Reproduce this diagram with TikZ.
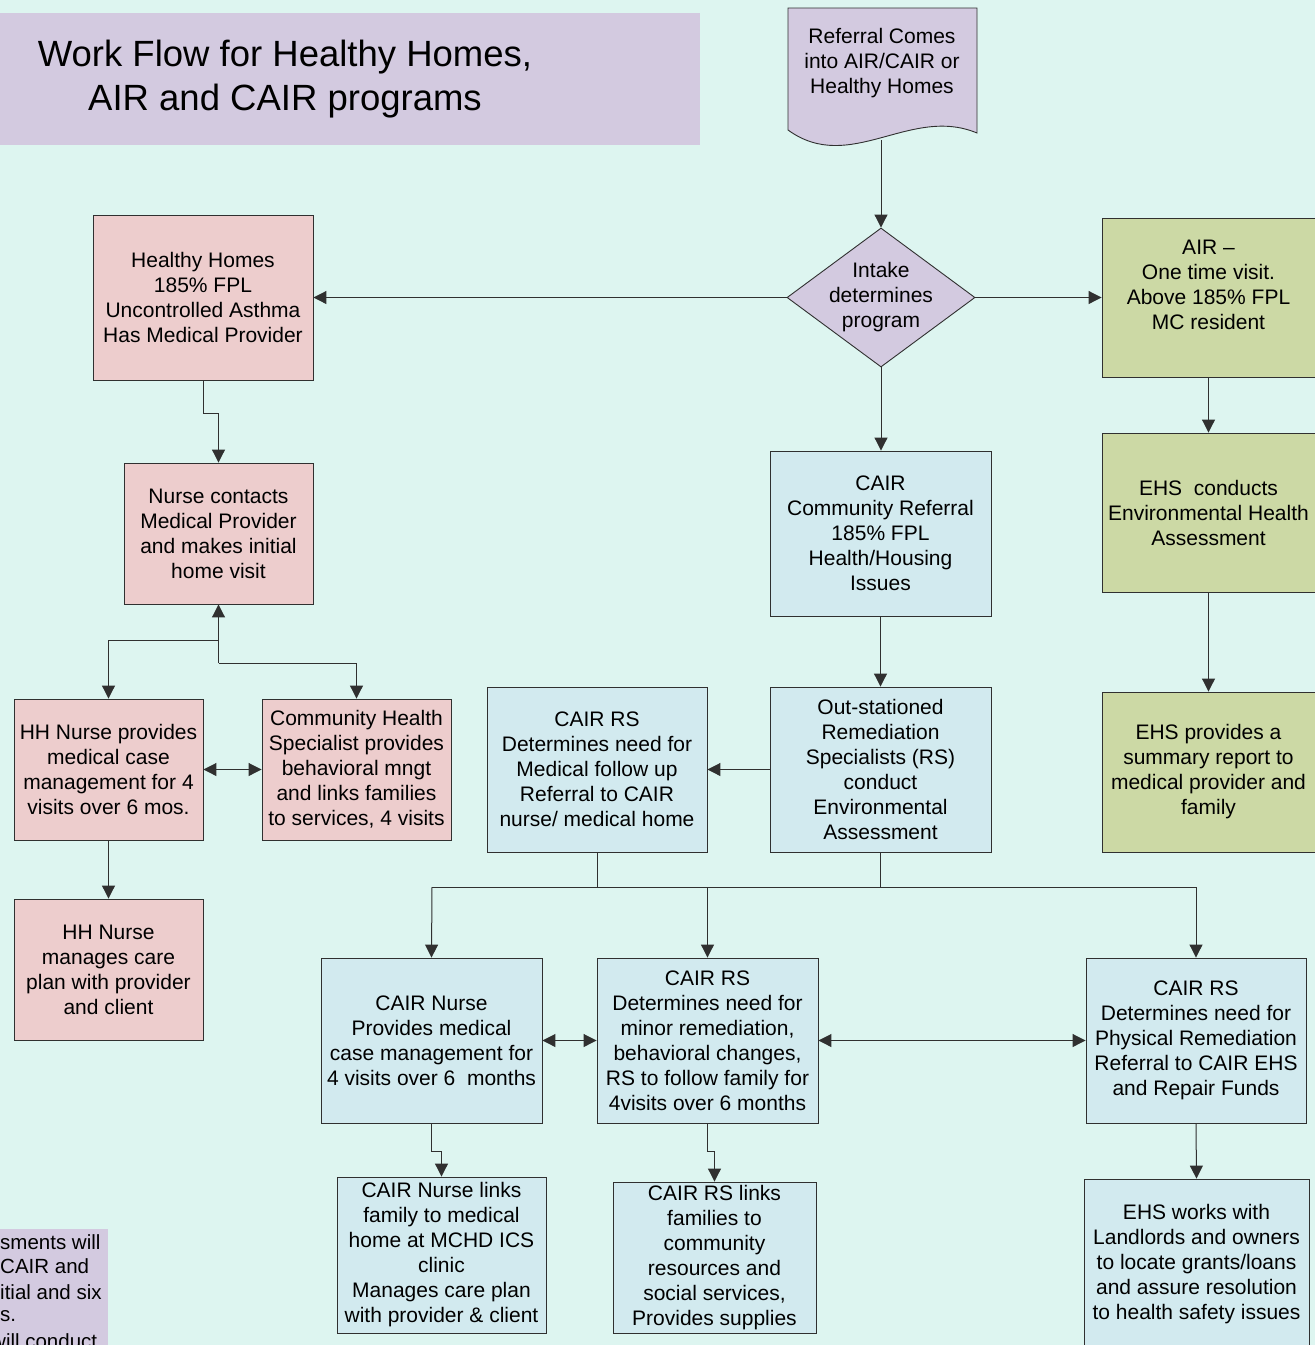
\documentclass[tikz,border=0pt]{standalone}
\usepackage{fontspec}
\setmainfont{Liberation Sans}
\usetikzlibrary{arrows.meta,shapes.geometric}
\definecolor{bgc}{HTML}{DDF5F0}
\definecolor{lilac}{HTML}{D3CAE0}
\definecolor{pinkc}{HTML}{EDCDCD}
\definecolor{bluec}{HTML}{D2EAEF}
\definecolor{greenc}{HTML}{CCD9A5}
\definecolor{linec}{HTML}{303030}
\begin{document}
\begin{tikzpicture}[x=1pt,y=-1pt,
  txt/.style={align=center, inner sep=0pt, font=\fontsize{21}{25}\selectfont},
  box/.style={txt, draw=linec, line width=0.9pt},
  pinkbox/.style={box, fill=pinkc},
  bluebox/.style={box, fill=bluec},
  greenbox/.style={box, fill=greenc},
  tip/.tip={Triangle[length=13pt,width=13pt]},
  wire/.style={draw=linec, line width=1pt},
  conn/.style={wire, -tip},
  dconn/.style={wire, tip-tip}]
\useasboundingbox (0,0) rectangle (1315,1345);
\clip (0,0) rectangle (1315,1345);
\fill[bgc] (0,0) rectangle (1315,1345);

% title
\fill[lilac] (0,13) rectangle (700,145);
\node[align=center, inner sep=0pt, font=\fontsize{36.5}{44}\selectfont] (title) at (285,79) {Work Flow for Healthy Homes,\\AIR and CAIR programs};

% referral document
\filldraw[fill=lilac, draw=linec, line width=0.9pt] (788,8) -- (977,8) -- (977,133)
  .. controls (910,105) and (850,175) .. (788,130) -- cycle;
\node[txt] (ref) at (882,63) {Referral Comes\\into AIR/CAIR or\\Healthy Homes};
\coordinate (refB) at (881,140);

% diamond
\node[diamond, draw=linec, line width=0.9pt, fill=lilac, minimum width=188pt, minimum height=139pt, inner sep=0pt] (dia) at (881,297.5) {};
\node[txt] (diat) at (dia.center) {Intake\\determines\\program};

% left column
\node[pinkbox, minimum width=220pt, minimum height=165pt] (hh) at (203,297.5) {Healthy Homes\\185\% FPL\\Uncontrolled Asthma\\Has Medical Provider};
\node[pinkbox, minimum width=189pt, minimum height=141pt] (nurse) at (218.5,533.5) {Nurse contacts\\Medical Provider\\and makes initial\\home visit};
\node[pinkbox, minimum width=189pt, minimum height=141pt] (hhn) at (108.5,769.5) {HH Nurse provides\\medical case\\management for 4\\visits over 6 mos.};
\node[pinkbox, minimum width=189pt, minimum height=141pt] (chs) at (356.5,769.5) {Community Health\\Specialist provides\\behavioral mngt\\and links families\\to services, 4 visits};
\node[pinkbox, minimum width=189pt, minimum height=141pt] (hhm) at (108.5,969.5) {HH Nurse\\manages care\\plan with provider\\and client};

% right column
\node[greenbox, minimum width=213pt, minimum height=159pt] (air) at (1208.5,297.5) {AIR --\\One time visit.\\Above 185\% FPL\\MC resident\\\mbox{}};
\node[greenbox, minimum width=213pt, minimum height=159pt] (ehs1) at (1208.5,512.5) {EHS\ \ conducts\\Environmental Health\\Assessment};
\node[greenbox, minimum width=213pt, minimum height=160pt] (ehs2) at (1208.5,772) {EHS provides a\\summary report to\\medical provider and\\family};

% center
\node[bluebox, minimum width=221pt, minimum height=165pt] (cc) at (880.5,533.5) {CAIR\\Community Referral\\185\% FPL\\Health/Housing\\Issues};
\node[bluebox, minimum width=221pt, minimum height=165pt] (out) at (880.5,769.5) {Out-stationed\\Remediation\\Specialists (RS)\\conduct\\Environmental\\Assessment};
\node[bluebox, minimum width=220pt, minimum height=165pt] (rsm) at (597,769.5) {CAIR RS\\Determines need for\\Medical follow up\\Referral to CAIR\\nurse/ medical home};

% bottom row
\node[bluebox, minimum width=221pt, minimum height=165pt] (cn) at (431.5,1040.5) {CAIR Nurse\\Provides medical\\case management for\\4 visits over 6\ \ months};
\node[bluebox, minimum width=221pt, minimum height=165pt] (rsn) at (707.5,1040.5) {CAIR RS\\Determines need for\\minor remediation,\\behavioral changes,\\RS to follow family for\\4visits over 6 months};
\node[bluebox, minimum width=220pt, minimum height=165pt] (phys) at (1196,1040.5) {CAIR RS\\Determines need for\\Physical Remediation\\Referral to CAIR EHS\\and Repair Funds};
\node[bluebox, minimum width=209pt, minimum height=156pt] (cnl) at (441.5,1255) {CAIR Nurse links\\family to medical\\home at MCHD ICS\\clinic\\Manages care plan\\with provider \& client};
\node[bluebox, minimum width=203pt, minimum height=151pt] (rsl) at (714.5,1257.5) {CAIR RS links\\families to\\community\\resources and\\social services,\\Provides supplies};
\node[bluebox, minimum width=225pt, minimum height=171pt] (ehsw) at (1196.5,1264.5) {EHS works with\\Landlords and owners\\to locate grants/loans\\and assure resolution\\to health safety issues};

% bottom-left note (cut off by the picture's edges, as in the reference)
\fill[lilac] (-5,1229) rectangle (108,1350);
\node[txt, anchor=west, font=\fontsize{20.5}{25}\selectfont] (n1) at (0,1242) {sments will};
\node[txt, anchor=west, font=\fontsize{20.5}{25}\selectfont] (n2) at (0,1266) {CAIR and};
\node[txt, anchor=west, font=\fontsize{20.5}{25}\selectfont] (n3) at (0,1292) {itial and six};
\node[txt, anchor=west, font=\fontsize{20.5}{25}\selectfont] (n4) at (0,1316) {s.};
\node[txt, anchor=west, font=\fontsize{20.5}{25}\selectfont] (n5) at (-9,1341) {will conduct};

% connectors
\draw[conn] (refB) -- (dia.north);
\draw[conn] (dia.west) -- (hh.east);
\draw[conn] (dia.east) -- (air.west);
\draw[conn] (dia.south) -- (dia.south |- cc.north);
\draw[conn] (hh.south) -- ++(0,33) -| (nurse.north);
\coordinate (j1) at (218.5,640);
\coordinate (j2) at (218.5,663);
\draw[conn] (j2) -- (nurse.south);
\draw[conn] (j1) -| (hhn.north);
\draw[conn] (j2) -| (chs.north);
\draw[dconn] (hhn.east) -- (chs.west);
\draw[conn] (hhn.south) -- (hhm.north);
\draw[conn] (air.south) -- (ehs1.north);
\draw[conn] (ehs1.south) -- (ehs2.north);
\draw[conn] (cc.south) -- (out.north);
\draw[conn] (out.west) -- (rsm.east);
\coordinate (tl) at (432,887);
\coordinate (tr) at (1196,887);
\draw[wire] (rsm.south) -- (rsm.south |- tl);
\draw[wire] (out.south) -- (out.south |- tl);
\draw[wire] (tl) -- (tr);
\draw[conn] (tl) -- (cn.north);
\draw[conn] (rsn.north |- tl) -- (rsn.north);
\draw[conn] (tr) -- (phys.north);
\draw[dconn] (cn.east) -- (rsn.west);
\draw[dconn] (rsn.east) -- (phys.west);
\draw[conn] (cn.south) -- ++(0,28) -| (cnl.north);
\draw[conn] (rsn.south) -- ++(0,28) -| (rsl.north);
\draw[conn] (phys.south) -- (ehsw.north);
\end{tikzpicture}
\end{document}
